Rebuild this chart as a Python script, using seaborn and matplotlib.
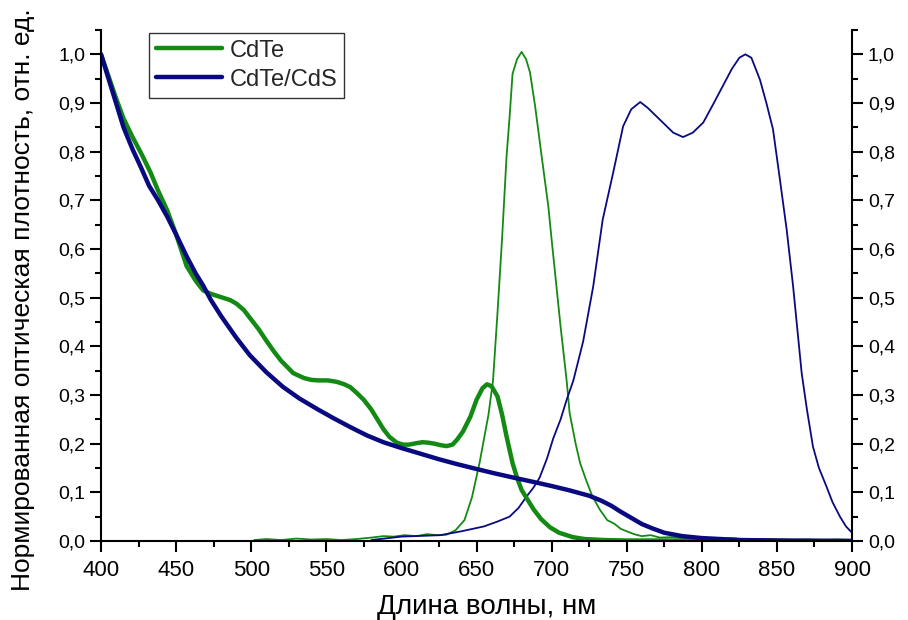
import matplotlib
matplotlib.use("Agg")
import matplotlib.pyplot as plt
import seaborn as sns
from matplotlib.ticker import MultipleLocator, FuncFormatter

# ---- data ----
abs_cdte_wl = [400, 405, 410, 415, 421, 427, 433, 438, 444, 450, 457, 463, 468, 473, 477, 481, 486, 490,
               495, 500, 505, 510, 515, 520, 528, 535, 540, 545, 551, 557, 562, 566, 570, 575, 580, 584,
               588, 592, 597, 601, 605, 610, 614, 618, 622, 626, 630, 634, 637, 641, 646, 650, 654, 657,
               660, 664, 667, 670, 674, 677, 680, 684, 688, 693, 699, 705, 714, 722, 735, 750, 780, 820,
               860, 900]
abs_cdte = [1.00, 0.955, 0.91, 0.868, 0.83, 0.795, 0.757, 0.72, 0.68, 0.63, 0.565, 0.535, 0.515, 0.508,
            0.504, 0.50, 0.495, 0.488, 0.475, 0.455, 0.435, 0.412, 0.39, 0.37, 0.345, 0.335, 0.331, 0.33,
            0.33, 0.327, 0.322, 0.316, 0.305, 0.29, 0.27, 0.25, 0.23, 0.214, 0.202, 0.198, 0.198, 0.201,
            0.203, 0.202, 0.20, 0.197, 0.195, 0.198, 0.208, 0.225, 0.256, 0.29, 0.314, 0.322, 0.318,
            0.297, 0.26, 0.215, 0.16, 0.13, 0.105, 0.085, 0.065, 0.045, 0.028, 0.017, 0.008, 0.004,
            0.002, 0.001, 0.001, 0.001, 0.0, 0.0]

abs_cdtecds_wl = [400, 405, 410, 415, 421, 427, 432, 438, 444, 450, 457, 463, 468, 473, 480, 490, 499,
                  510, 521, 532, 544, 555, 566, 577, 588, 600, 612, 625, 637, 650, 662, 675, 687, 700,
                  712, 725, 733, 740, 745, 750, 755, 760, 767, 775, 787, 800, 825, 850, 875, 900]
abs_cdtecds = [1.00, 0.95, 0.90, 0.85, 0.805, 0.765, 0.73, 0.70, 0.667, 0.63, 0.585, 0.55, 0.525, 0.496,
               0.462, 0.418, 0.382, 0.347, 0.317, 0.293, 0.271, 0.252, 0.234, 0.217, 0.203, 0.191, 0.18,
               0.168, 0.158, 0.148, 0.139, 0.13, 0.122, 0.113, 0.104, 0.093, 0.083, 0.072, 0.062, 0.053,
               0.044, 0.035, 0.026, 0.017, 0.01, 0.006, 0.002, 0.001, 0.0005, 0.0]

pl_cdte_wl = [502, 510, 520, 530, 540, 550, 560, 570, 580, 588, 595, 602, 610, 617, 624, 630, 636, 642,
              647, 652, 655, 658, 661, 664, 667, 670, 672, 674, 677, 680, 683, 685.6, 689, 693.4, 697.8,
              700, 703, 706, 710, 712, 716, 719, 723, 727, 732, 737, 742, 746, 750, 755, 760, 766, 772,
              780, 790, 800, 810, 820, 830, 840, 850, 860, 870, 880, 890, 900]
pl_cdte = [0.002, 0.004, 0.002, 0.005, 0.003, 0.004, 0.002, 0.004, 0.007, 0.01, 0.009, 0.012, 0.01,
           0.014, 0.012, 0.013, 0.022, 0.043, 0.09, 0.16, 0.21, 0.26, 0.33, 0.47, 0.62, 0.79, 0.87, 0.96,
           0.99, 1.005, 0.99, 0.963, 0.894, 0.79, 0.688, 0.62, 0.53, 0.44, 0.33, 0.263, 0.2, 0.16, 0.125,
           0.093, 0.065, 0.043, 0.035, 0.025, 0.02, 0.014, 0.01, 0.012, 0.007, 0.008, 0.005, 0.006,
           0.004, 0.006, 0.003, 0.004, 0.003, 0.002, 0.003, 0.002, 0.003, 0.002]

pl_cdtecds_wl = [580, 600, 626, 640, 655, 664, 672, 678, 683, 688, 692, 697, 701, 706, 710, 714.5, 721,
                 727.7, 734, 741, 747.6, 753, 759, 764, 772, 781, 787.5, 794, 801, 807.5, 814, 820, 825,
                 829, 833, 838.7, 843, 847.4, 852, 856.5, 860.8, 866.5, 870, 874, 878, 883, 887, 892,
                 896, 900]
pl_cdtecds = [0.002, 0.009, 0.012, 0.02, 0.03, 0.04, 0.05, 0.068, 0.09, 0.11, 0.13, 0.17, 0.21, 0.25,
              0.29, 0.33, 0.41, 0.523, 0.66, 0.757, 0.852, 0.887, 0.902, 0.89, 0.866, 0.839, 0.83, 0.839,
              0.86, 0.897, 0.935, 0.97, 0.993, 1.0, 0.993, 0.948, 0.9, 0.846, 0.743, 0.64, 0.523, 0.345,
              0.27, 0.194, 0.15, 0.112, 0.08, 0.05, 0.03, 0.017]

series_labels = ["CdTe", "CdTe/CdS"]
x_label = "Длина волны, нм"
y_label = "Нормированная оптическая плотность, отн. ед."

GREEN = "#138a13"
NAVY = "#0a0a80"

sns.set_theme(style="ticks")
plt.rcParams['font.family'] = ['Liberation Sans', 'DejaVu Sans']

fig = plt.figure(figsize=(9.08, 6.2), dpi=100)
ax = fig.add_axes([101 / 908, 1 - 541 / 620, 751 / 908, 511 / 620])

sns.lineplot(x=pl_cdte_wl, y=pl_cdte, ax=ax, color=GREEN, linewidth=1.3, legend=False)
sns.lineplot(x=pl_cdtecds_wl, y=pl_cdtecds, ax=ax, color=NAVY, linewidth=1.3, legend=False)
sns.lineplot(x=abs_cdte_wl, y=abs_cdte, ax=ax, color=GREEN, linewidth=3.2, label=series_labels[0])
sns.lineplot(x=abs_cdtecds_wl, y=abs_cdtecds, ax=ax, color=NAVY, linewidth=3.2, label=series_labels[1])

ax.set_xlim(400, 900)
ax.set_ylim(0, 1.05)
ax.xaxis.set_major_locator(MultipleLocator(50))
ax.xaxis.set_minor_locator(MultipleLocator(25))
ax.yaxis.set_major_locator(MultipleLocator(0.1))
ax.yaxis.set_minor_locator(MultipleLocator(0.05))
ax.yaxis.set_major_formatter(FuncFormatter(lambda v, p: f"{v:.1f}".replace('.', ',')))

for s in ["left", "right", "bottom"]:
    ax.spines[s].set_visible(True)
    ax.spines[s].set_color("black")
    ax.spines[s].set_linewidth(1.5)
ax.spines["top"].set_visible(False)

ax.tick_params(axis='both', which='major', direction='out', length=8, width=1.5, color='black',
               labelsize=14, labelcolor='black')
ax.tick_params(axis='both', which='minor', direction='out', length=4, width=1.5, color='black')
ax.tick_params(axis='y', which='both', left=True, right=True, labelleft=True, labelright=True)
ax.tick_params(axis='x', which='both', top=False, pad=6)
for lab in ax.get_xticklabels():
    lab.set_family(['Liberation Sans Narrow', 'Liberation Sans'])
    lab.set_fontsize(16)

ax.set_xlabel(x_label, fontsize=20, color='black')
ax.xaxis.set_label_coords(0.513, -0.104)
ax.set_ylabel(y_label, fontsize=19, color='black')
ax.yaxis.set_label_coords(-0.088, 0.472)

leg = ax.legend(loc='upper left', bbox_to_anchor=(0.064, 0.995), borderaxespad=0, fontsize=17,
                frameon=True, fancybox=False, edgecolor='black', handlelength=2.8,
                handletextpad=0.3, borderpad=0.3, labelspacing=0.3)
leg.get_frame().set_linewidth(1.0)
for line in leg.get_lines():
    line.set_linewidth(3.2)

fig.savefig("out.png", dpi=100, facecolor='white')
